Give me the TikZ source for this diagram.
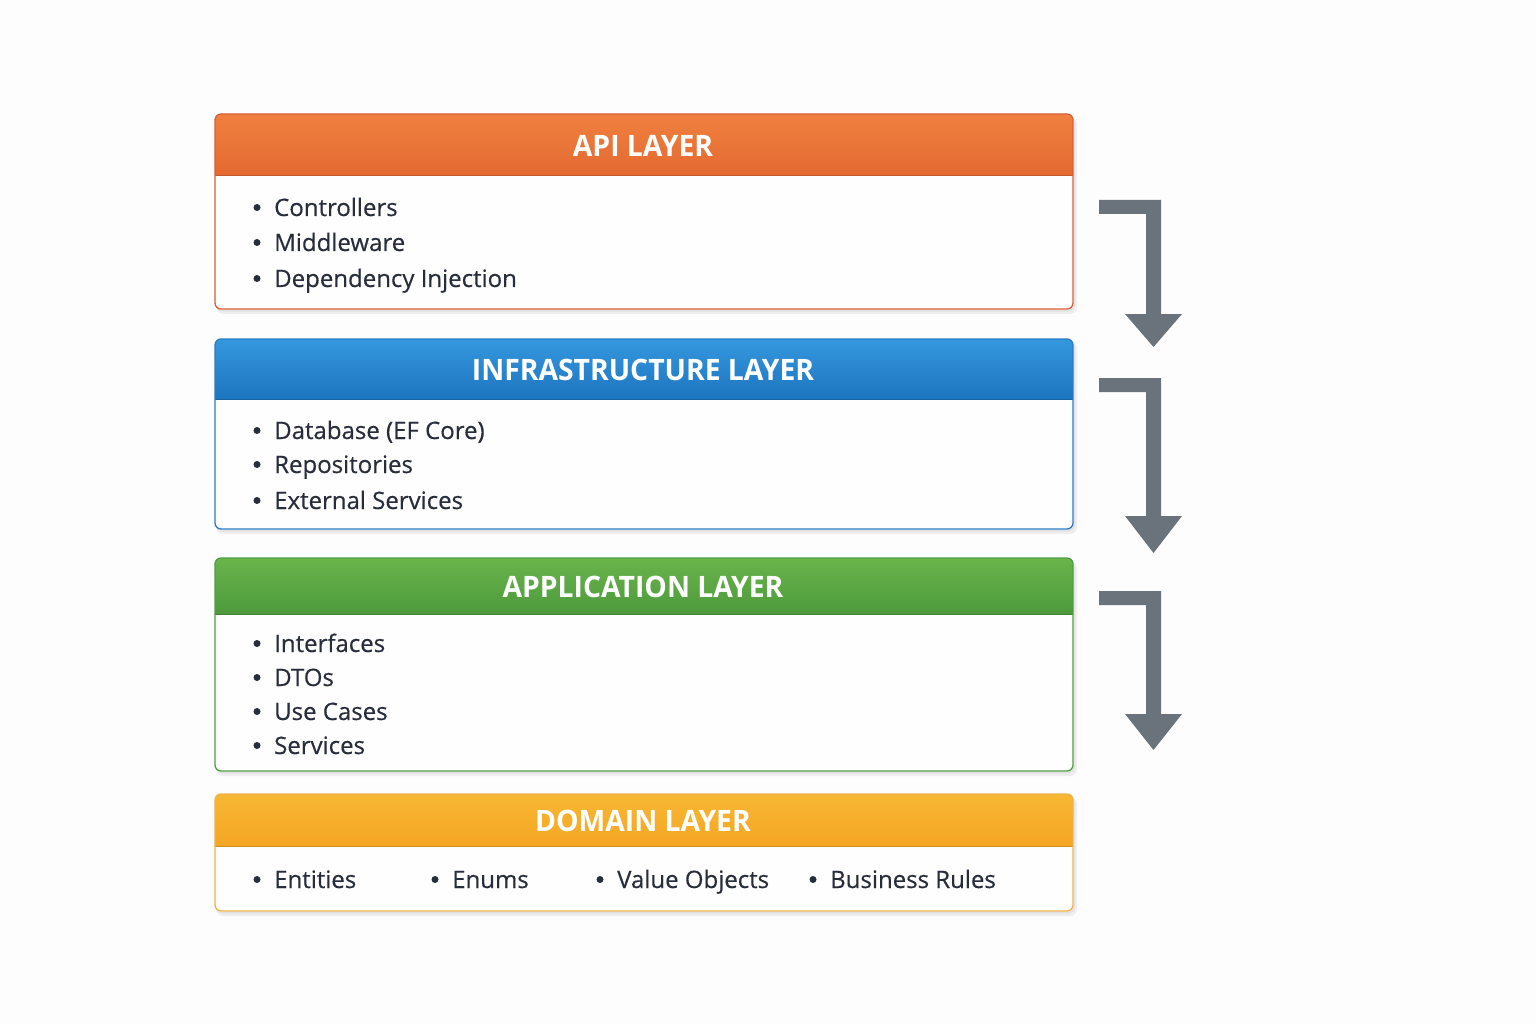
\documentclass[tikz,border=0pt]{standalone}
\usepackage{fontspec}
\setmainfont{Open Sans}
\newfontfamily\itemfont[FakeBold=0.4]{Open Sans}
\newfontfamily\titlefont[Scale=1.0,FakeStretch=0.96]{Open Sans Bold}
\usetikzlibrary{calc}
\definecolor{bgc}{HTML}{FDFDFD}
\definecolor{bodyc}{HTML}{FEFEFE}
\definecolor{txt}{HTML}{272D3A}
\definecolor{arrowc}{HTML}{6A737C}
\definecolor{apiT}{HTML}{F0803F}
\definecolor{apiB}{HTML}{E36A31}
\definecolor{apiL}{HTML}{D95F35}
\definecolor{infT}{HTML}{3598DE}
\definecolor{infB}{HTML}{1D74BF}
\definecolor{infL}{HTML}{2A7BC4}
\definecolor{appT}{HTML}{6AB44B}
\definecolor{appB}{HTML}{4C9A3C}
\definecolor{appL}{HTML}{4E9E42}
\definecolor{domT}{HTML}{F8B733}
\definecolor{domB}{HTML}{F4A623}
\definecolor{domL}{HTML}{EDB24A}
\tikzset{
  titletext/.style={text=white, font=\titlefont\fontsize{29.5}{33}\selectfont, inner sep=0},
  itemtext/.style={text=txt, font=\itemfont\fontsize{24}{29}\selectfont, inner sep=0, anchor=base west},
  bulletdot/.style={circle, fill=txt, inner sep=0, minimum size=7pt},
  boxframe/.style={line width=1.3pt, rounded corners=6pt},
  arrowshape/.style={fill=arrowc},
}
% #1 name, #2 top, #3 header bottom, #4 bottom, #5 top col, #6 bottom col, #7 border, #8 title
\newcommand\mylayer[8]{%
  \fill[black, opacity=0.06, rounded corners=7pt] (216,#2+3) rectangle (1077,#4+5);
  \fill[black, opacity=0.05, rounded corners=7pt] (216,#2+2) rectangle (1075,#4+2.5);
  \node[boxframe, fill=bodyc, minimum width=858pt, minimum height={#4-#2}, anchor=north west, inner sep=0] (#1) at (215,#2) {};
  \begin{scope}
    \clip[rounded corners=6pt] (215,#2) rectangle (1073,#4);
    \shade[top color=#5, bottom color=#6] (215,#2) rectangle (1073,#3);
    \draw[#6!85!black, line width=1pt] (215,#3) -- (1073,#3);
  \end{scope}
  \draw[boxframe, draw=#7] (215,#2) rectangle (1073,#4);
  \node[titletext] (#1-title) at (643,{(#2+#3)/2+1}) {#8};
}
% #1 name, #2 bullet x, #3 baseline y, #4 text
\newcommand\myitem[4]{%
  \node[bulletdot] (#1-dot) at (#2,#3-8.5) {};
  \node[itemtext] (#1) at (#2+17,#3) {#4};
}
% #1 top, #2 head base, #3 tip
\newcommand\bentarrow[3]{%
  \fill[arrowshape] (1099,#1) -- (1161,#1) -- (1161,#2) -- (1182,#2) -- (1153.5,#3) -- (1125,#2) -- (1146,#2) -- (1146,#1+14) -- (1099,#1+14) -- cycle;
}
\begin{document}
\begin{tikzpicture}[x=1pt,y=-1pt]
\useasboundingbox[fill=bgc] (0,0) rectangle (1536,1024);

\mylayer{api}{114}{176}{309}{apiT}{apiB}{apiL}{API LAYER}
\myitem{api1}{257}{216}{Controllers}
\myitem{api2}{257}{251}{Middleware}
\myitem{api3}{257}{287}{Dependency Injection}

\mylayer{inf}{339}{399}{529}{infT}{infB}{infL}{INFRASTRUCTURE LAYER}
\myitem{inf1}{257}{439}{Database (EF Core)}
\myitem{inf2}{257}{473}{Repositories}
\myitem{inf3}{257}{509}{External Services}

\mylayer{app}{558}{614}{771}{appT}{appB}{appL}{APPLICATION LAYER}
\myitem{app1}{257}{652}{Interfaces}
\myitem{app2}{257}{686}{DTOs}
\myitem{app3}{257}{720}{Use Cases}
\myitem{app4}{257}{754}{Services}

\mylayer{dom}{794}{846}{911}{domT}{domB}{domL}{DOMAIN LAYER}
\myitem{dom1}{257}{888}{Entities}
\myitem{dom2}{435}{888}{Enums}
\myitem{dom3}{600}{888}{Value Objects}
\myitem{dom4}{813}{888}{Business Rules}

\bentarrow{200}{314}{347}
\bentarrow{378}{516}{553}
\bentarrow{591}{714}{750}
\end{tikzpicture}
\end{document}
